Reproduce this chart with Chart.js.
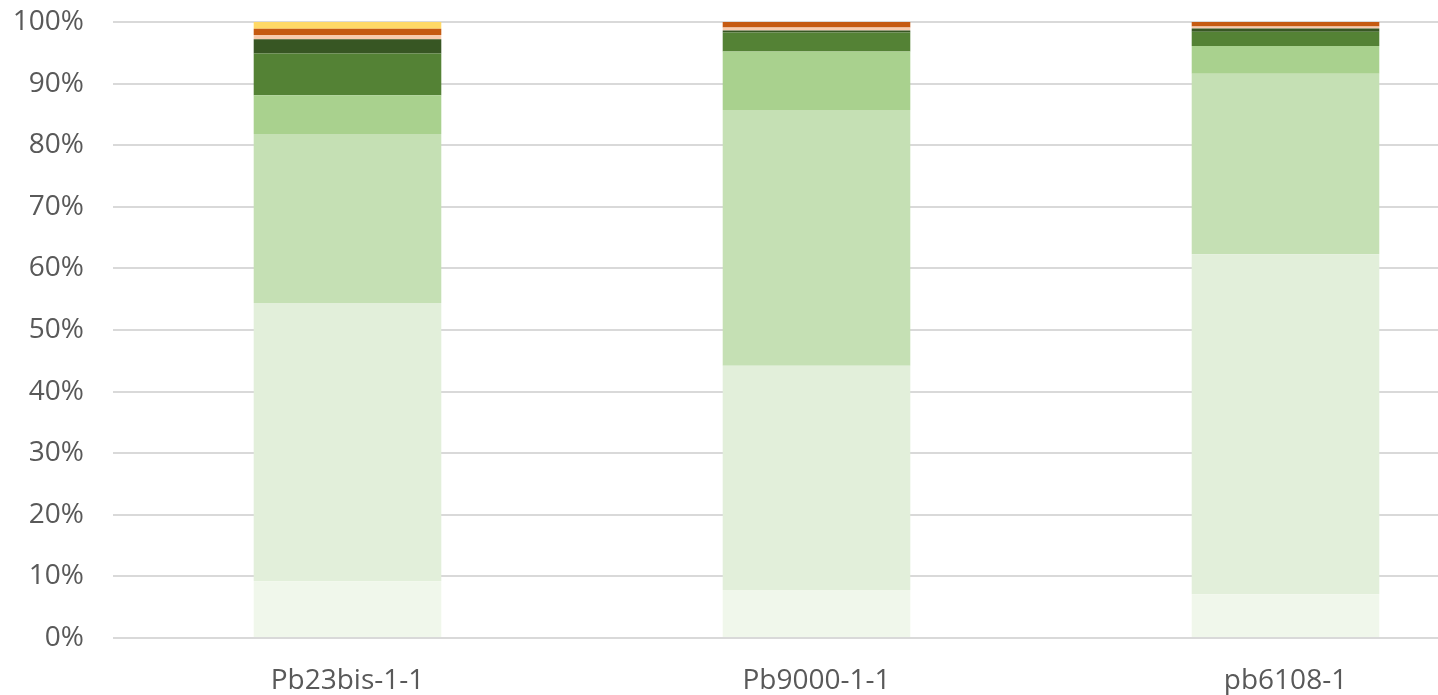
<!DOCTYPE html>
<html>
<head>
<meta charset="utf-8">
<script src="https://cdn.jsdelivr.net/npm/chart.js@4"></script>
<style>
  html, body { margin: 0; padding: 0; background: #fff; overflow: hidden; }
  #wrap { position: relative; width: 1520px; height: 695px; }
</style>
</head>
<body>
<div id="wrap"><canvas id="c"></canvas></div>
<script>
// Sample names
const categories = ['Pb23bis-1-1', 'Pb9000-1-1', 'pb6108-1'];

// Share of each fraction per sample (%), bottom to top
const fraction1 = [9.2, 7.8, 7.1];
const fraction2 = [45.2, 36.4, 55.2];
const fraction3 = [27.4, 41.5, 29.3];
const fraction4 = [6.3, 9.5, 4.5];
const fraction5 = [6.8, 3.1, 2.3];
const fraction6 = [2.3, 0.3, 0.55];
const fraction7 = [0.7, 0.5, 0.3];
const fraction8 = [1.0, 0.9, 0.75];
const fraction9 = [1.1, 0, 0];

const seriesValues = [fraction1, fraction2, fraction3, fraction4, fraction5,
                      fraction6, fraction7, fraction8, fraction9];
const seriesColors = ['#f0f7eb', '#e2efda', '#c5e0b4', '#a9d18e', '#548235',
                      '#375623', '#f8cbad', '#c55a11', '#ffd966'];

const yTicks = [0, 10, 20, 30, 40, 50, 60, 70, 80, 90, 100];

const datasets = seriesValues.map((vals, i) => ({
  label: 'S' + (i + 1),
  data: vals,
  backgroundColor: seriesColors[i],
  borderWidth: 0,
  barPercentage: 0.4,
  categoryPercentage: 1.0
}));

const labelFont = { family: 'Open Sans', size: 28 };

new Chart(document.getElementById('c'), {
  type: 'bar',
  data: { labels: categories, datasets },
  options: {
    responsive: true,
    maintainAspectRatio: false,
    animation: false,
    layout: { padding: { top: 22, right: 0, bottom: 0, left: 0 } },
    plugins: { legend: { display: false }, tooltip: { enabled: false } },
    scales: {
      x: {
        stacked: true,
        grid: { display: false },
        border: { display: false },
        ticks: {
          color: '#595959',
          font: labelFont,
          padding: 18,
          maxRotation: 0
        },
        afterFit: s => { s.height = 57; s.paddingLeft = 0; s.paddingRight = 0; }
      },
      y: {
        stacked: true,
        min: 0,
        max: 100,
        afterBuildTicks: s => { s.ticks = yTicks.map(v => ({ value: v })); },
        grid: { color: '#d9d9d9', lineWidth: 2, drawTicks: false },
        border: { display: false },
        ticks: {
          color: '#595959',
          font: labelFont,
          padding: 29,
          callback: v => v + '%'
        },
        afterFit: s => { s.width = 113; s.paddingTop = 0; s.paddingBottom = 0; }
      }
    }
  }
});
</script>
</body>
</html>
